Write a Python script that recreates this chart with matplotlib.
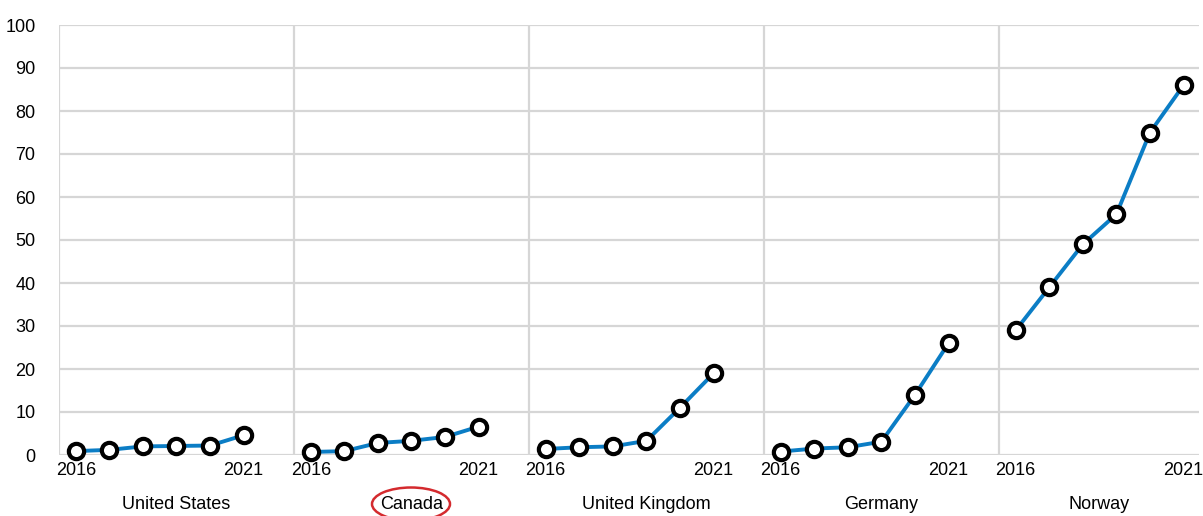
import matplotlib.pyplot as plt
from matplotlib.patches import Ellipse

countries = ["United States", "Canada", "United Kingdom", "Germany", "Norway"]
years = ["2016", "2017", "2018", "2019", "2020", "2021"]
us = [0.9, 1.2, 2.0, 2.1, 2.2, 4.6]
canada = [0.7, 0.9, 2.8, 3.3, 4.2, 6.6]
uk = [1.4, 1.8, 2.0, 3.3, 11, 19]
germany = [0.8, 1.5, 1.8, 3.1, 14, 26]
norway = [29, 39, 49, 56, 75, 86]
series = [us, canada, uk, germany, norway]

plt.rcParams['font.family'] = ['Liberation Sans', 'DejaVu Sans']

W, H = 1203, 516
fig = plt.figure(figsize=(W / 100, H / 100), dpi=100)
ax = fig.add_axes([59 / W, 1 - 455 / H, (1199 - 59) / W, 430 / H])

slot = len(years) + 1  # one blank slot between countries
blue = "#0b7dc5"
grid = "#d6d6d6"
fs = 13

xmax = len(countries) * slot - 1.54
ax.set_xlim(-0.5, xmax)
ax.set_ylim(0, 100)

for v in range(0, 101, 10):
    ax.axhline(v, color=grid, lw=1.6, zorder=0)
for i in range(len(countries)):
    ax.axvline(i * slot - 0.5, color=grid, lw=1.6, zorder=0)

for i, (name, vals) in enumerate(zip(countries, series)):
    xs = [i * slot + j for j in range(len(vals))]
    ax.plot(xs, vals, color=blue, lw=2.8, zorder=2, clip_on=False)
    ax.plot(xs, vals, ls="none", marker="o", ms=11, mfc="white", mec="black",
            mew=3, zorder=3, clip_on=False)
    ax.text(xs[0], -3.6, years[0], ha="center", va="center", fontsize=fs)
    ax.text(xs[-1], -3.6, years[-1], ha="center", va="center", fontsize=fs)
    left = i * slot - 0.5
    right = min(left + slot, xmax)
    ax.text((left + right) / 2, -11.6, name, ha="center", va="center",
            fontsize=fs)

ax.set_yticks(range(0, 101, 10))
ax.tick_params(axis="y", length=0, labelsize=fs, pad=17)
ax.set_xticks([])
for s in ax.spines.values():
    s.set_visible(False)

# red ring around the Canada label
fig.patches.append(Ellipse((411 / W, 1 - 504 / H), 78 / W, 33 / H,
                           transform=fig.transFigure, fill=False,
                           ec="#d42a2e", lw=1.8))

fig.savefig("out.png", dpi=100)
